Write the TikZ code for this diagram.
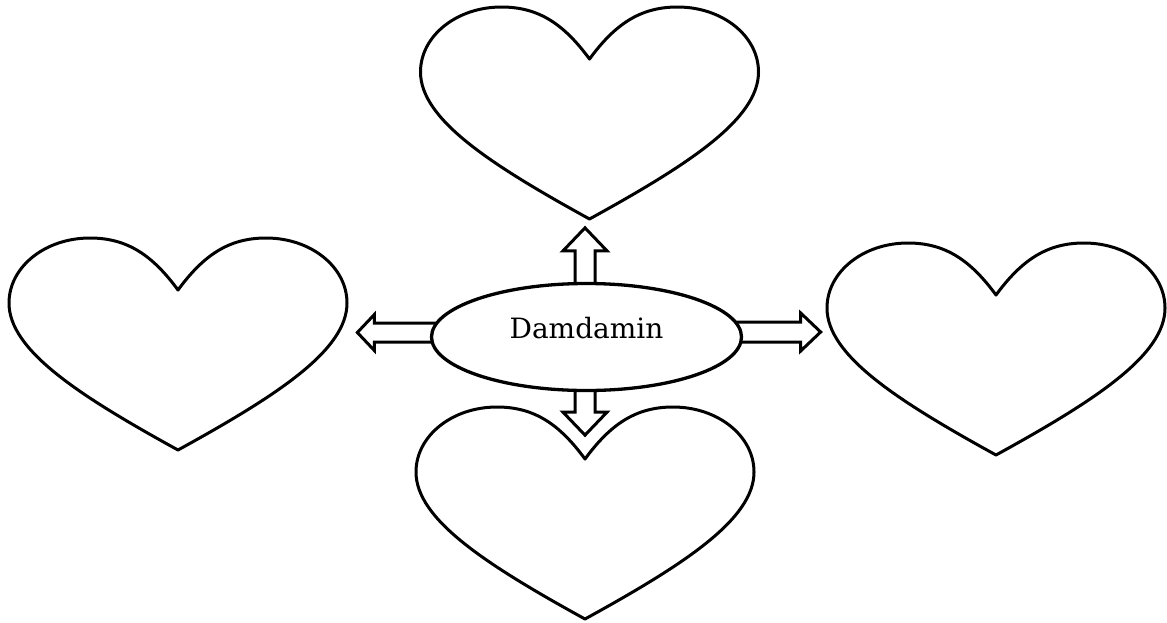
\documentclass[tikz,border=0pt]{standalone}
\usepackage{fontspec}
\newfontfamily\labelfont{DejaVu Serif}
\usetikzlibrary{shapes.geometric}
\pgfdeclarelayer{paper}
\pgfdeclarelayer{arrows}
\pgfsetlayers{paper,arrows,main}
\tikzset{
  heartline/.style={draw=black, line width=3pt, line join=round, fill=white},
  blockarrow/.style={draw=black, line width=3pt, line join=miter, fill=white},
  hub/.style={ellipse, draw=black, fill=white, line width=3.3pt, inner sep=0pt,
    minimum width=310pt, minimum height=107pt, text height=20pt, text depth=18pt,
    font=\labelfont\fontsize{28}{33}\selectfont},
  heart/.pic={
    \path[heartline] (0,212)
      .. controls (-100,157) and (-169,112) .. (-169,65)
      .. controls (-169,29) and (-133,0) .. (-88,0)
      .. controls (-50,0) and (-25,18) .. (0,52)
      .. controls (25,18) and (50,0) .. (88,0)
      .. controls (133,0) and (169,29) .. (169,65)
      .. controls (169,112) and (100,157) .. (0,212) -- cycle;
  }
}
\begin{document}
\begin{tikzpicture}[x=1pt,y=-1pt]
\begin{pgfonlayer}{paper}
  \fill[white] (0,0) rectangle (1167,622);
\end{pgfonlayer}
\useasboundingbox (0,0) rectangle (1167,622);

% hearts
\pic (htop) at (589.5,7) {heart};
\pic (hleft) at (178,238) {heart};
\pic (hright) at (996,243) {heart};
\pic (hbottom) at (585,407) {heart};

% central ellipse
\node[hub] (c) at (586.5,337) {Damdamin};

% block arrows (drawn beneath the ellipse)
\begin{pgfonlayer}{arrows}
  % up
  \path[blockarrow] ([shift={(-11.5,15)}]c.north) -- ++(0,-46) -- ++(-12,0)
     -- ++(22,-23) -- ++(22,23) -- ++(-12,0) -- ++(0,46);
  % down
  \path[blockarrow] ([shift={(-11.5,-15)}]c.south) -- ++(0,35) -- ++(-12,0)
     -- ++(22,23) -- ++(22,-23) -- ++(-12,0) -- ++(0,-35);
  % left
  \path[blockarrow] ([shift={(15,-14)}]c.west) -- ++(-70.5,0) -- ++(0,-8.5)
     -- ++(-17,18) -- ++(17,18) -- ++(0,-8.5) -- ++(70.5,0);
  % right
  \path[blockarrow] ([shift={(-15,-15)}]c.east) -- ++(72.5,0) -- ++(0,-9)
     -- ++(20,19) -- ++(-20,19) -- ++(0,-9) -- ++(-72.5,0);
\end{pgfonlayer}
\end{tikzpicture}
\end{document}
